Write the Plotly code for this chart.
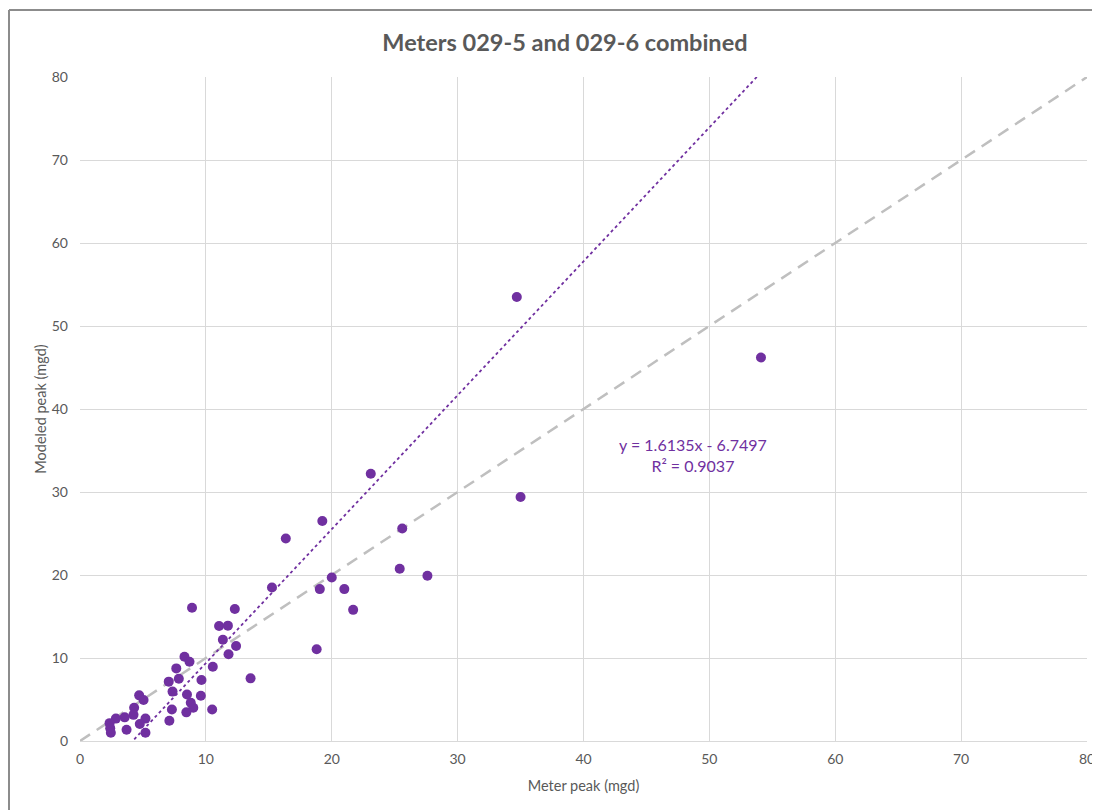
import plotly.graph_objs as go

# meter peak vs modeled peak (mgd)
meter_peak = [
    54.1, 34.7, 35.0, 23.1, 27.6, 25.6, 25.4, 19.25, 16.35, 15.25,
    20.0, 19.05, 21.0, 21.7, 18.8, 13.55, 12.3, 8.9, 11.05, 11.75,
    11.35, 12.4, 11.8, 8.3, 8.7, 10.55, 7.65, 7.85, 7.05, 9.65,
    7.35, 8.5, 9.6, 8.8, 9.0, 8.45, 7.3, 10.5, 7.1, 4.7,
    5.05, 4.3, 4.25, 3.55, 2.85, 5.2, 4.75, 3.7, 5.2, 2.35,
    2.4, 2.45,
]
modeled_peak = [
    46.2, 53.5, 29.4, 32.2, 19.9, 25.6, 20.75, 26.5, 24.4, 18.5,
    19.7, 18.3, 18.3, 15.8, 11.05, 7.55, 15.9, 16.05, 13.85, 13.9,
    12.2, 11.45, 10.45, 10.15, 9.55, 8.95, 8.75, 7.5, 7.15, 7.35,
    5.95, 5.6, 5.45, 4.6, 4.0, 3.45, 3.8, 3.8, 2.45, 5.5,
    4.95, 4.0, 3.15, 2.85, 2.7, 2.7, 2.05, 1.35, 1.0, 2.15,
    1.55, 1.0,
]

slope = 1.6135
intercept = -6.7497
r_squared = 0.9037

one_to_one = [0, 80]
trend_x = [min(meter_peak), max(meter_peak)]
trend_y = [slope * v + intercept for v in trend_x]

purple = '#7030A0'
grey_text = '#595959'
font_family = 'Lato, "Open Sans", sans-serif'

fig = go.Figure()
fig.add_traces(
    go.Scatter(
        name='1:1',
        x=one_to_one,
        y=one_to_one,
        mode='lines',
        line={'color': '#BFBFBF', 'width': 2.5, 'dash': '12px,8px'},
        hoverinfo='skip',
    )
)
fig.add_traces(
    go.Scatter(
        name='Linear fit',
        x=trend_x,
        y=trend_y,
        mode='lines',
        line={'color': purple, 'width': 1.8, 'dash': 'dot'},
        hoverinfo='skip',
    )
)
fig.add_traces(
    go.Scatter(
        name='Peaks',
        x=meter_peak,
        y=modeled_peak,
        mode='markers',
        marker={'color': purple, 'size': 10},
        hoverinfo='x+y',
    )
)

fig.add_annotation(
    x=48.7,
    y=34.4,
    xref='x',
    yref='y',
    text=f'y = {slope}x - {abs(intercept)}<br>R² = {r_squared}',
    showarrow=False,
    font={'color': purple, 'size': 16, 'family': font_family},
    align='center',
)

# frame of the original chart area (left and top edges only are visible)
fig.add_shape(type='line', xref='paper', yref='paper',
              x0=-0.0705, x1=-0.0705, y0=-0.11, y1=1.101,
              line={'color': '#8C8C8C', 'width': 2})
fig.add_shape(type='line', xref='paper', yref='paper',
              x0=-0.0705, x1=1.03, y0=1.101, y1=1.101,
              line={'color': '#8C8C8C', 'width': 2})

# page body adds an 8px offset, size and margins are compensated for it
fig.update_layout(
    width=1092,
    height=802,
    margin={'l': 72, 'r': 13, 't': 69, 'b': 69},
    paper_bgcolor='white',
    plot_bgcolor='white',
    showlegend=False,
    font={'family': font_family, 'color': grey_text, 'size': 14},
    title={
        'text': '<b>Meters 029-5 and 029-6 combined</b>',
        'x': 0.51,
        'xanchor': 'center',
        'y': 0.957,
        'yanchor': 'middle',
        'font': {'size': 23.5, 'color': grey_text, 'family': font_family},
    },
    xaxis={
        'range': [0, 80],
        'dtick': 10,
        'automargin': False,
        'showgrid': True,
        'gridcolor': '#D9D9D9',
        'gridwidth': 1,
        'zeroline': False,
        'showline': True,
        'linecolor': '#D9D9D9',
        'ticks': '',
        'ticklabelstandoff': 5,
        'tickfont': {'size': 14, 'color': grey_text},
        'title': {'text': 'Meter peak (mgd)', 'font': {'size': 14.5, 'color': grey_text}, 'standoff': 15},
    },
    yaxis={
        'range': [0, 80],
        'dtick': 10,
        'showgrid': True,
        'gridcolor': '#D9D9D9',
        'gridwidth': 1,
        'zeroline': False,
        'showline': False,
        'ticks': '',
        'ticklabelstandoff': 11,
        'tickfont': {'size': 14, 'color': grey_text},
        'title': {'text': 'Modeled peak (mgd)', 'font': {'size': 14.5, 'color': grey_text}, 'standoff': 1},
    },
)

fig.write_html('out.html')
